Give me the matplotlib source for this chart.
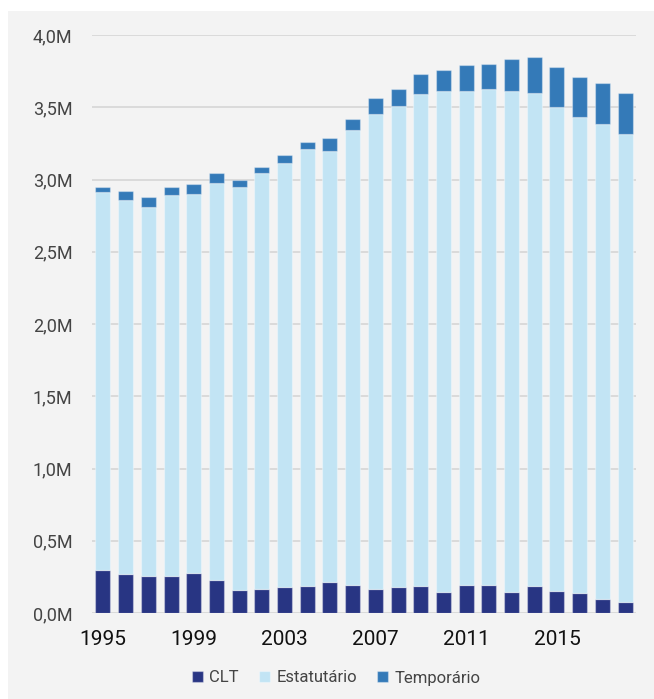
import matplotlib
matplotlib.use("Agg")
import matplotlib.pyplot as plt
import numpy as np
from matplotlib.patches import Rectangle
from matplotlib.ticker import FuncFormatter, MultipleLocator

plt.rcParams['font.family'] = ['Roboto', 'DejaVu Sans']

# dados (milhões de vínculos)
anos = list(range(1995, 2019))
clt = [0.300, 0.270, 0.253, 0.253, 0.277, 0.226, 0.159, 0.168, 0.182, 0.189,
       0.217, 0.196, 0.168, 0.182, 0.189, 0.145, 0.196, 0.196, 0.145, 0.189,
       0.152, 0.138, 0.094, 0.078]
estatutario = [2.614, 2.586, 2.559, 2.640, 2.623, 2.752, 2.791, 2.877, 2.934, 3.022,
               2.980, 3.147, 3.283, 3.326, 3.401, 3.467, 3.416, 3.430, 3.467, 3.410,
               3.352, 3.292, 3.292, 3.237]
temporario = [0.036, 0.064, 0.065, 0.057, 0.067, 0.067, 0.044, 0.044, 0.054, 0.046,
              0.088, 0.076, 0.111, 0.118, 0.138, 0.144, 0.180, 0.176, 0.224, 0.251,
              0.275, 0.282, 0.284, 0.281]
series = ['CLT', 'Estatutário', 'Temporário']
cores = ['#283583', '#c2e4f4', '#347ab8']

fundo = '#f3f3f3'
fig = plt.figure(figsize=(6.54, 6.99), dpi=100)
fig.patch.set_facecolor('white')
fig.patches.append(Rectangle((8 / 654, 0), 1 - 8 / 654, 1 - 11 / 699,
                             transform=fig.transFigure, facecolor=fundo,
                             edgecolor='none', zorder=-10))

ax = fig.add_axes([92 / 654, 1 - 613 / 699, (636 - 92) / 654, (613 - 35) / 699])
ax.set_facecolor(fundo)

x = np.arange(len(anos))
base = np.zeros(len(anos))
for nome, valores, cor in zip(series, [clt, estatutario, temporario], cores):
    v = np.array(valores) * 1e6
    ax.bar(x, v, bottom=base, width=0.66, color=cor, label=nome,
           edgecolor=(1, 1, 1, 0.35), linewidth=0.9, zorder=3)
    base += v

ax.set_ylim(0, 4.0e6)
ax.set_xlim(-0.48, len(anos) - 0.52)
ax.yaxis.set_major_locator(MultipleLocator(0.5e6))
ax.yaxis.set_major_formatter(FuncFormatter(lambda v, p: f'{v / 1e6:.1f}M'.replace('.', ',')))
ax.yaxis.grid(True, color='#d6d6d6', linewidth=1.2, zorder=0)
ax.set_axisbelow(True)

ticks = [i for i, a in enumerate(anos) if (a - 1995) % 4 == 0]
ax.set_xticks(ticks)
ax.set_xticklabels([str(anos[i]) for i in ticks], fontsize=15, color='#111111')
ax.tick_params(axis='x', length=0, pad=12)
ax.tick_params(axis='y', length=0, pad=14, labelsize=13, labelcolor='#444444')
for s in ax.spines.values():
    s.set_visible(False)

fig.legend(loc='center', bbox_to_anchor=(336 / 654, 1 - 678 / 699), ncol=3,
           frameon=False, fontsize=12, labelcolor='#444444',
           handlelength=0.65, handleheight=0.65, handletextpad=0.4,
           columnspacing=1.2)

plt.savefig('out.png', dpi=100, facecolor=fig.get_facecolor())
